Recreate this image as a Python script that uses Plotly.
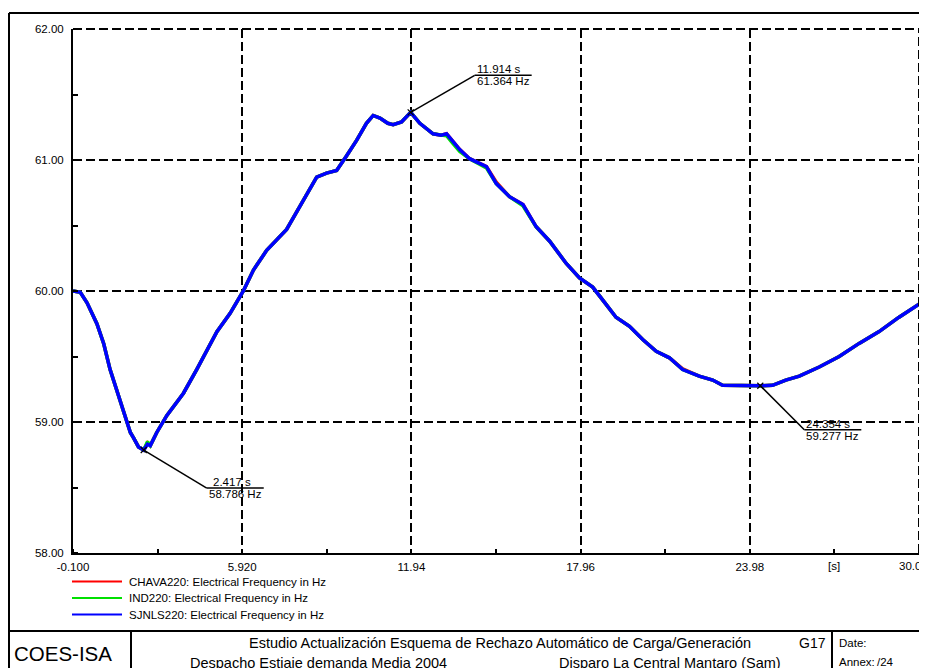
import plotly.graph_objects as go

# ---------------- data ----------------
time_s = [-0.1, 0.16, 0.4, 0.75, 0.99, 1.22, 1.46, 1.70, 1.94, 2.05, 2.23, 2.417, 2.55, 2.65, 2.88,
          3.24, 3.83, 4.30, 4.66, 5.02, 5.49, 5.96, 6.32, 6.79, 7.50, 7.97, 8.57, 8.92, 9.28, 9.63,
          9.99, 10.34, 10.58, 10.82, 11.10, 11.29, 11.59, 11.914, 12.24, 12.71, 13.00, 13.19, 13.40,
          13.66, 14.01, 14.61, 14.96, 15.43, 15.91, 16.38, 16.86, 17.45, 17.92, 18.39, 18.75, 19.22,
          19.70, 20.17, 20.65, 21.12, 21.59, 22.18, 22.66, 23.01, 24.354, 24.79, 25.26, 25.74, 26.45,
          27.16, 27.87, 28.58, 29.29, 30.0]

sjnls220 = [60.00, 59.99, 59.91, 59.75, 59.60, 59.40, 59.24, 59.07, 58.92, 58.88, 58.81, 58.786, 58.83,
            58.82, 58.92, 59.05, 59.22, 59.40, 59.55, 59.69, 59.83, 60.00, 60.16, 60.31, 60.47, 60.64,
            60.87, 60.90, 60.92, 61.03, 61.15, 61.28, 61.34, 61.32, 61.28, 61.27, 61.29, 61.364, 61.28,
            61.20, 61.19, 61.20, 61.15, 61.08, 61.01, 60.95, 60.82, 60.72, 60.66, 60.49, 60.38, 60.21,
            60.10, 60.03, 59.93, 59.80, 59.73, 59.63, 59.54, 59.49, 59.40, 59.35, 59.32, 59.28, 59.277,
            59.28, 59.32, 59.35, 59.42, 59.50, 59.60, 59.69, 59.80, 59.90]

ind220 = [60.00, 59.99, 59.91, 59.75, 59.60, 59.40, 59.24, 59.07, 58.92, 58.88, 58.81, 58.786, 58.85,
          58.82, 58.92, 59.05, 59.22, 59.40, 59.55, 59.69, 59.83, 60.00, 60.16, 60.31, 60.47, 60.64,
          60.87, 60.90, 60.92, 61.03, 61.15, 61.28, 61.34, 61.32, 61.28, 61.27, 61.29, 61.364, 61.28,
          61.20, 61.19, 61.185, 61.13, 61.065, 61.01, 60.94, 60.82, 60.72, 60.65, 60.49, 60.38, 60.21,
          60.10, 60.03, 59.93, 59.80, 59.73, 59.63, 59.54, 59.49, 59.40, 59.35, 59.32, 59.28, 59.277,
          59.28, 59.32, 59.35, 59.42, 59.50, 59.60, 59.69, 59.80, 59.90]

chava220 = [60.00, 59.99, 59.91, 59.75, 59.60, 59.40, 59.24, 59.07, 58.92, 58.88, 58.81, 58.786, 58.84,
            58.82, 58.92, 59.05, 59.22, 59.40, 59.55, 59.69, 59.83, 60.00, 60.16, 60.31, 60.47, 60.64,
            60.87, 60.90, 60.92, 61.03, 61.15, 61.28, 61.34, 61.32, 61.28, 61.27, 61.29, 61.364, 61.28,
            61.20, 61.19, 61.20, 61.15, 61.08, 61.01, 60.95, 60.83, 60.72, 60.66, 60.49, 60.38, 60.21,
            60.10, 60.03, 59.93, 59.80, 59.73, 59.63, 59.54, 59.49, 59.405, 59.35, 59.32, 59.28, 59.277,
            59.28, 59.32, 59.35, 59.42, 59.50, 59.60, 59.69, 59.80, 59.90]

series_names = ["CHAVA220: Electrical Frequency in Hz",
                "IND220: Electrical Frequency in Hz",
                "SJNLS220: Electrical Frequency in Hz"]
series_values = [chava220, ind220, sjnls220]
series_colors = ["#ff0000", "#00e000", "#0000ff"]

x_tickvals = [-0.1, 5.92, 11.94, 17.96, 23.98, 30.0]
x_ticktext = ["-0.100", "5.920", "11.94", "17.96", "23.98", "30.00"]
y_tickvals = [58, 59, 60, 61, 62]
y_ticktext = ["58.00", "59.00", "60.00", "61.00", "62.00"]

# marked points: (time, value)
marks_t = [2.417, 11.914, 24.354]
marks_f = [58.786, 61.364, 59.277]
marks_dx = [63, 64, 44]      # leader offsets (px)
marks_dy = [-38, 37, -44]

title_line1 = "Estudio Actualización Esquema de Rechazo Automático de Carga/Generación"
title_line2a = "Despacho Estiaje demanda Media 2004"
title_line2b = "Disparo La Central Mantaro (Sam)"

FONT = "Liberation Sans, Arial, sans-serif"

# ---------------- figure ----------------
OFF = 8                      # page body margin
W, H = 927 - OFF, 668 - OFF
PL, PR, PT, PB = 73, 919, 29, 553   # plot area in window pixels
L, T = PL - OFF, PT - OFF
R, B = W - (PR - OFF), H - (PB - OFF)
PW, PH = PR - PL, PB - PT


def px(x):
    return (x - PL) / PW


def py(y):
    return (PB - y) / PH


fig = go.Figure()
for name, vals, col in zip(series_names, series_values, series_colors):
    fig.add_trace(go.Scatter(x=time_s, y=vals, mode="lines", name=name,
                             line=dict(color=col, width=3.5), showlegend=False,
                             hoverinfo="skip"))

fig.add_trace(go.Scatter(x=marks_t, y=marks_f, mode="markers", showlegend=False,
                         marker=dict(symbol="x-thin-open", size=6, color="black",
                                     line=dict(width=1.2, color="black")),
                         hoverinfo="skip"))

grid = dict(color="black", width=2, dash="9px,4px")
shapes = [
    # boundary grid lines at 62.00 and 30.00
    dict(type="line", xref="paper", yref="paper", x0=0, x1=1, y0=1, y1=1, line=grid),
    dict(type="line", xref="paper", yref="paper", x0=1, x1=1, y0=0, y1=1, line=grid),
]
annotations = []
ULEN = 57
for t, f, dx, dy in zip(marks_t, marks_f, marks_dx, marks_dy):
    shapes.append(dict(type="line", xref="x", yref="y", xsizemode="pixel", ysizemode="pixel",
                       xanchor=t, yanchor=f, x0=0, y0=0, x1=dx, y1=dy,
                       line=dict(color="black", width=1.5)))
    shapes.append(dict(type="line", xref="x", yref="y", xsizemode="pixel", ysizemode="pixel",
                       xanchor=t, yanchor=f, x0=dx, y0=dy, x1=dx + ULEN, y1=dy,
                       line=dict(color="black", width=1.5)))
    annotations.append(dict(x=t, y=f, xref="x", yref="y", showarrow=False,
                            text=f"{t:.3f} s", xanchor="left", yanchor="middle",
                            xshift=dx + (4 if t < 10 else 0), yshift=dy + 6,
                            font=dict(family=FONT, size=11.5, color="black")))
    annotations.append(dict(x=t, y=f, xref="x", yref="y", showarrow=False,
                            text=f"{f:.3f} Hz", xanchor="left", yanchor="middle",
                            xshift=dx, yshift=dy - 6,
                            font=dict(family=FONT, size=11.5, color="black")))

# "[s]" unit label at minor tick position, and the last (edge) tick label
annotations.append(dict(x=(x_tickvals[4] + x_tickvals[5]) / 2, y=py(566), xref="x", yref="paper",
                        text="[s]", showarrow=False, xanchor="center", yanchor="middle",
                        font=dict(family=FONT, size=11.5, color="black")))
annotations.append(dict(x=x_tickvals[-1], y=py(566), xref="x", yref="paper",
                        text=x_ticktext[-1], showarrow=False, xanchor="center", yanchor="middle",
                        xshift=-6,
                        font=dict(family=FONT, size=11.5, color="black")))

# manual legend
leg_y = [581.5, 598, 614.5]
for name, col, yy in zip(series_names, series_colors, leg_y):
    shapes.append(dict(type="line", xref="paper", yref="paper", x0=px(72), x1=px(122),
                       y0=py(yy), y1=py(yy), line=dict(color=col, width=2)))
    annotations.append(dict(x=px(127), y=py(yy), xref="paper", yref="paper", text=name,
                            showarrow=False, xanchor="left", yanchor="middle",
                            font=dict(family=FONT, size=11.5, color="black")))

# frame and title block
frame = dict(color="black", width=2)
shapes += [
    dict(type="line", xref="paper", yref="paper", x0=px(9), x1=px(9), y0=py(13), y1=py(672), line=frame),
    dict(type="line", xref="paper", yref="paper", x0=px(9), x1=px(932), y0=py(13), y1=py(13), line=frame),
    dict(type="line", xref="paper", yref="paper", x0=px(9), x1=px(932), y0=py(631), y1=py(631), line=frame),
    dict(type="line", xref="paper", yref="paper", x0=px(131), x1=px(131), y0=py(631), y1=py(672), line=frame),
    dict(type="line", xref="paper", yref="paper", x0=px(832), x1=px(832), y0=py(631), y1=py(672), line=frame),
]

annotations += [
    dict(x=px(12), y=py(653), xref="paper", yref="paper", text="COES-ISA", showarrow=False,
         xanchor="left", yanchor="middle", font=dict(family=FONT, size=20.5, color="black")),
    dict(x=px(500), y=py(643), xref="paper", yref="paper", text=title_line1, showarrow=False,
         xanchor="center", yanchor="middle", font=dict(family=FONT, size=14.5, color="black")),
    dict(x=px(797), y=py(643), xref="paper", yref="paper", text="G17", showarrow=False,
         xanchor="left", yanchor="middle", font=dict(family=FONT, size=14, color="black")),
    dict(x=px(188), y=py(663), xref="paper", yref="paper", text=title_line2a, showarrow=False,
         xanchor="left", yanchor="middle", font=dict(family=FONT, size=14.5, color="black")),
    dict(x=px(557), y=py(663), xref="paper", yref="paper", text=title_line2b, showarrow=False,
         xanchor="left", yanchor="middle", font=dict(family=FONT, size=14.5, color="black")),
    dict(x=px(837), y=py(643), xref="paper", yref="paper", text="Date:", showarrow=False,
         xanchor="left", yanchor="middle", font=dict(family=FONT, size=11.5, color="black")),
    dict(x=px(837), y=py(662), xref="paper", yref="paper", text="Annex:", showarrow=False,
         xanchor="left", yanchor="middle", font=dict(family=FONT, size=11.5, color="black")),
    dict(x=px(875), y=py(662), xref="paper", yref="paper", text="/24", showarrow=False,
         xanchor="left", yanchor="middle", font=dict(family=FONT, size=11.5, color="black")),
]

axis_common = dict(showgrid=True, gridcolor="black", gridwidth=2, griddash="9px,4px",
                   showline=True, linecolor="black", linewidth=2, zeroline=False,
                   ticks="", tickfont=dict(family=FONT, size=11.5, color="black"))

fig.update_layout(
    width=W, height=H,
    margin=dict(l=L, r=R, t=T, b=B, autoexpand=False),
    paper_bgcolor="white", plot_bgcolor="white",
    showlegend=False,
    xaxis=dict(range=[-0.1, 30.0], tickmode="array", tickvals=x_tickvals, ticktext=x_ticktext,
               ticklabelstandoff=2,
               minor=dict(ticks="inside", ticklen=4, tickwidth=2, tickcolor="black",
                          tick0=-0.1, dtick=3.01, showgrid=False),
               **axis_common),
    yaxis=dict(range=[58, 62], tickmode="array", tickvals=y_tickvals, ticktext=y_ticktext,
               ticklabelstandoff=5,
               minor=dict(ticks="inside", ticklen=5, tickwidth=2, tickcolor="black",
                          tick0=58, dtick=0.5, showgrid=False),
               **axis_common),
    shapes=shapes,
    annotations=annotations,
)

fig.write_html("out.html")
